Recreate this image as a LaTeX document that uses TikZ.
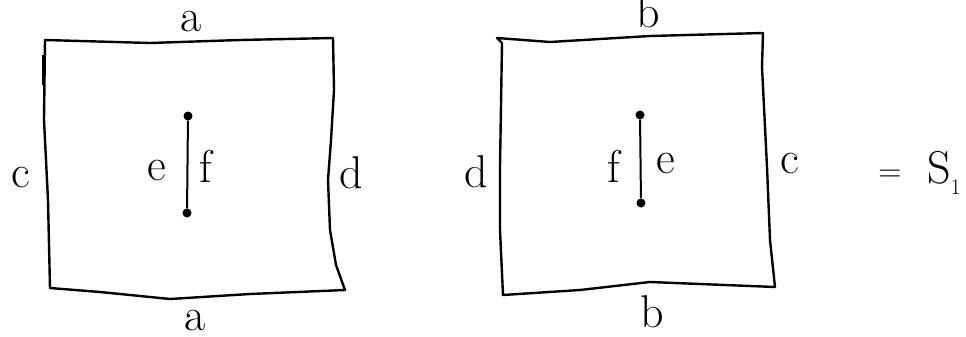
\documentclass[tikz,border=0pt]{standalone}
\usepackage{tikz}

\begin{document}
\begin{tikzpicture}[x=1pt,y=-1pt,
  edge/.style={line width=2.4pt, line join=round},
  slit/.style={line width=2pt},
  pin/.style={circle, fill, inner sep=0pt, minimum size=9pt},
  lbl/.style={font=\fontsize{46}{50}\selectfont, inner sep=0pt, anchor=base}]
\useasboundingbox (0,0) rectangle (966,337);
% left square
\draw[edge] (45,40) -- (150,43) -- (240,40) -- (333,38) -- (334,90) -- (331,140)
  -- (328,180) -- (330,230) -- (336,265) -- (345,290) -- (250,294) -- (170,299)
  -- (100,292) -- (50,288) -- (48,200) -- (44,120) -- cycle;
\draw[line width=3pt] (43,55) -- (43,85);
\node[pin] (l1) at (188,116) {};
\node[pin] (l2) at (187,213) {};
\draw[slit] (l1) -- (l2);
\node[lbl] (la1) at (191,32) {a};
\node[lbl] (la2) at (195,330) {a};
\node[lbl] (lc) at (21,187) {c};
\node[lbl] (ld) at (351,188) {d};
\node[lbl] (le) at (157,180) {e};
\node[lbl] (lf) at (206,182) {f};
% right square
\draw[edge] (497,38) -- (550,42) -- (650,36) -- (763,33) -- (762,67) -- (767,167)
  -- (770,240) -- (775,287) -- (700,284) -- (650,282) -- (580,290) -- (503,295)
  -- (500,230) -- (500,167) -- (502,43) -- cycle;
\node[pin] (r1) at (640,115) {};
\node[pin] (r2) at (641,203) {};
\draw[slit] (r1) -- (r2);
\node[lbl] (rb1) at (648,28) {b};
\node[lbl] (rb2) at (652,327) {b};
\node[lbl] (rd) at (476,187) {d};
\node[lbl] (rc) at (790,173) {c};
\node[lbl] (rf) at (614,182) {f};
\node[lbl] (re) at (666,173) {e};
% result
\node[lbl, font=\fontsize{32}{34}\selectfont] (eq) at (890,181) {=};
\node[lbl, anchor=base west] (s1) at (927,183)
  {S\raisebox{-0.25em}{\fontsize{22}{24}\selectfont 1}};
\end{tikzpicture}
\end{document}
